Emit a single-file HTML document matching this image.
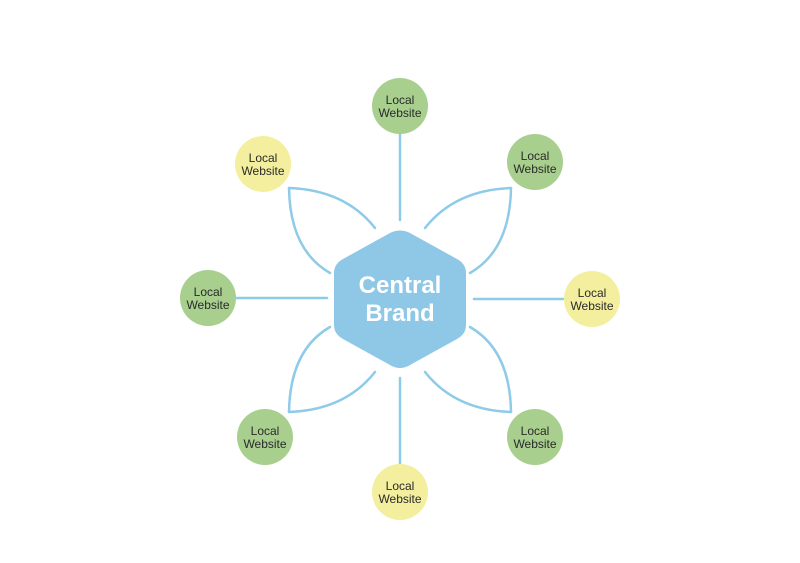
<!DOCTYPE html><html><head><style>body{margin:0;background:#fff}svg{display:block}text{font-family:"Liberation Sans",sans-serif;fill:#2a2a2a}</style></head><body>
<svg width="800" height="563" viewBox="0 0 800 563">
<g stroke="#8ecbe8" stroke-width="2.5" fill="none" stroke-linecap="round">
<line x1="400" y1="134" x2="400" y2="220"/><line x1="400" y1="378" x2="400" y2="464"/>
<line x1="236" y1="298" x2="327" y2="298"/><line x1="474" y1="299" x2="563" y2="299"/>
<g id="c"><path d="M289,188 Q345,190 375,228"/><path d="M289,188 Q290,250 330,273"/></g>
<use href="#c" transform="translate(800,0) scale(-1,1)"/>
<use href="#c" transform="translate(0,600) scale(1,-1)"/>
<use href="#c" transform="translate(800,600) scale(-1,-1)"/>
</g>
<path d="M390,233 Q400,228 410,233 L457,259 Q466,264 466,273 L466,325 Q466,334 457,339 L410,365 Q400,371 390,365 L343,339 Q334,334 334,325 L334,273 Q334,264 343,259 Z" fill="#8ec8e6"/>
<text x="400" y="293" text-anchor="middle" font-size="24" font-weight="bold" style="fill:#fff">Central</text>
<text x="400" y="321" text-anchor="middle" font-size="24" font-weight="bold" style="fill:#fff">Brand</text>
<g font-size="12" text-anchor="middle">
<g transform="translate(400,106)"><circle r="28" fill="#a8cf8e"/><text y="-2">Local</text><text y="11">Website</text></g>
<g transform="translate(535,162)"><circle r="28" fill="#a8cf8e"/><text y="-2">Local</text><text y="11">Website</text></g>
<g transform="translate(592,299)"><circle r="28" fill="#f3ef9e"/><text y="-2">Local</text><text y="11">Website</text></g>
<g transform="translate(535,437)"><circle r="28" fill="#a8cf8e"/><text y="-2">Local</text><text y="11">Website</text></g>
<g transform="translate(400,492)"><circle r="28" fill="#f3ef9e"/><text y="-2">Local</text><text y="11">Website</text></g>
<g transform="translate(265,437)"><circle r="28" fill="#a8cf8e"/><text y="-2">Local</text><text y="11">Website</text></g>
<g transform="translate(208,298)"><circle r="28" fill="#a8cf8e"/><text y="-2">Local</text><text y="11">Website</text></g>
<g transform="translate(263,164)"><circle r="28" fill="#f3ef9e"/><text y="-2">Local</text><text y="11">Website</text></g>
</g>
</svg></body></html>
